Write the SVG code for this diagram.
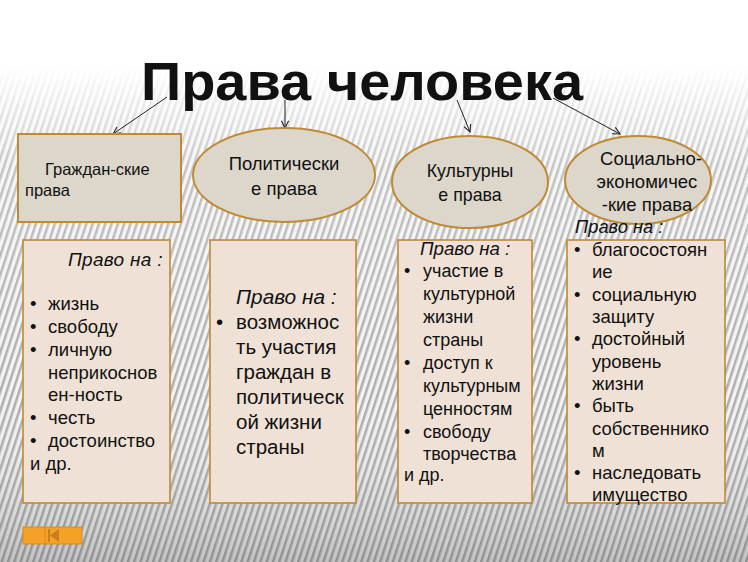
<svg xmlns="http://www.w3.org/2000/svg" width="748" height="562" viewBox="0 0 748 562">
<defs>
<style>
text{font-family:"Liberation Sans",Arial,sans-serif;fill:#111}
.node{fill:#dcd6cb;stroke:#bf8a34;stroke-width:2}
.box{fill:#efe1d5;stroke:#bf8a34;stroke-width:1.6}
.conn{stroke:#222;stroke-width:1;fill:none;marker-end:url(#arr)}
.it{font-style:italic}
</style>
<marker id="arr" viewBox="0 0 10 10" refX="9" refY="5" markerWidth="9" markerHeight="9" orient="auto" markerUnits="userSpaceOnUse">
<path d="M1,1 L9,5 L1,9" fill="none" stroke="#222" stroke-width="1.2"/>
</marker>
<pattern id="stripes" width="6" height="6" patternUnits="userSpaceOnUse" patternTransform="rotate(18)">
<rect width="6" height="6" fill="#f2f2f2"/>
<rect width="2.5" height="6" fill="#a9a9a9"/>
</pattern>
<linearGradient id="topfade" x1="0" y1="0" x2="0" y2="1">
<stop offset="0" stop-color="#fff" stop-opacity="1"/>
<stop offset="0.12" stop-color="#fff" stop-opacity="1"/>
<stop offset="0.3" stop-color="#fff" stop-opacity="0.3"/>
<stop offset="0.7" stop-color="#fff" stop-opacity="0.05"/>
<stop offset="1" stop-color="#555" stop-opacity="0.3"/>
</linearGradient>
</defs>
<rect width="748" height="562" fill="url(#stripes)"/>
<rect width="748" height="562" fill="url(#topfade)"/>

<text x="362" y="100" text-anchor="middle" font-size="54" font-weight="bold" textLength="442" lengthAdjust="spacingAndGlyphs">Права человека</text>

<g id="connectors">
<line class="conn" x1="167" y1="97" x2="113" y2="134"/>
<line class="conn" x1="285" y1="100" x2="285" y2="128"/>
<line class="conn" x1="457" y1="100" x2="470" y2="132"/>
<line class="conn" x1="553" y1="98" x2="620" y2="134"/>
</g>

<g id="civil">
<rect class="node" x="18" y="134" width="163" height="88"/>
<text x="45" y="175" font-size="16.5">Граждан-ские</text>
<text x="25" y="196" font-size="16.5">права</text>
</g>

<g id="political">
<ellipse class="node" cx="284" cy="175" rx="91" ry="47"/>
<text x="284" y="170" font-size="18.5" text-anchor="middle">Политически</text>
<text x="284" y="195" font-size="18.5" text-anchor="middle">е права</text>
</g>

<g id="cultural">
<ellipse class="node" cx="470" cy="182" rx="78" ry="46"/>
<text x="470" y="177" font-size="17.8" text-anchor="middle">Культурны</text>
<text x="470" y="201" font-size="17.8" text-anchor="middle">е права</text>
</g>

<g id="social">
<ellipse class="node" cx="638" cy="180" rx="73" ry="44"/>
<text x="651" y="165" font-size="18.5" text-anchor="middle">Социально-</text>
<text x="647" y="188" font-size="18.5" text-anchor="middle">экономичес</text>
<text x="647" y="211" font-size="18.5" text-anchor="middle">-кие права</text>
</g>

<g id="civil-list" font-size="18.5">
<rect class="box" x="23" y="240" width="147" height="263"/>
<text class="it" x="68" y="266" font-size="19" letter-spacing="0.3">Право на :</text>
<text x="30" y="310">•</text><text x="48" y="310">жизнь</text>
<text x="30" y="333">•</text><text x="48" y="333">свободу</text>
<text x="30" y="356">•</text><text x="48" y="356">личную</text>
<text x="48" y="379">неприкоснов</text>
<text x="48" y="401">ен-ность</text>
<text x="30" y="424">•</text><text x="48" y="424">честь</text>
<text x="30" y="447">•</text><text x="48" y="447">достоинство</text>
<text x="30" y="470">и др.</text>
</g>

<g id="political-list" font-size="20.5">
<rect class="box" x="210" y="240" width="146" height="263"/>
<text class="it" x="236" y="304" font-size="20.8">Право на :</text>
<text x="216" y="329">•</text><text x="236" y="329">возможнос</text>
<text x="236" y="354">ть участия</text>
<text x="236" y="379">граждан в</text>
<text x="236" y="404">политическ</text>
<text x="236" y="429">ой жизни</text>
<text x="236" y="454">страны</text>
</g>

<g id="cultural-list" font-size="18">
<rect class="box" x="398" y="240" width="134" height="263"/>
<text class="it" x="420" y="255" font-size="18.7">Право на :</text>
<text x="404" y="277">•</text><text x="423" y="277">участие в</text>
<text x="423" y="300">культурной</text>
<text x="423" y="323">жизни</text>
<text x="423" y="346">страны</text>
<text x="404" y="369">•</text><text x="423" y="369">доступ к</text>
<text x="423" y="392">культурным</text>
<text x="423" y="415">ценностям</text>
<text x="404" y="438">•</text><text x="423" y="438">свободу</text>
<text x="423" y="460">творчества</text>
<text x="404" y="481">и др.</text>
</g>

<g id="social-list" font-size="18.5">
<rect class="box" x="567" y="240" width="158" height="263"/>
<text class="it" x="575" y="233" font-size="18.3">Право на :</text>
<text x="574" y="256">•</text><text x="592" y="256">благосостоян</text>
<text x="592" y="278">ие</text>
<text x="574" y="301">•</text><text x="592" y="301"> социальную</text>
<text x="592" y="323">защиту</text>
<text x="574" y="345">•</text><text x="592" y="345">достойный</text>
<text x="592" y="368">уровень</text>
<text x="592" y="390">жизни</text>
<text x="574" y="412">•</text><text x="592" y="412">быть</text>
<text x="592" y="435">собственнико</text>
<text x="592" y="457">м</text>
<text x="574" y="479">•</text><text x="592" y="479">наследовать</text>
<text x="592" y="501">имущество</text>
</g>

<g id="nav-button">
<rect x="23" y="527" width="59" height="17" fill="#f3a227" stroke="#d68a1e" stroke-width="1"/>
<line x1="45" y1="527" x2="45" y2="544" stroke="#d68a1e" stroke-width="1"/>
<rect x="48" y="529" width="2" height="13" fill="#c9801a"/>
<path d="M59,529 L50,535.5 L59,542 Z" fill="#c9801a"/>
</g>
</svg>
